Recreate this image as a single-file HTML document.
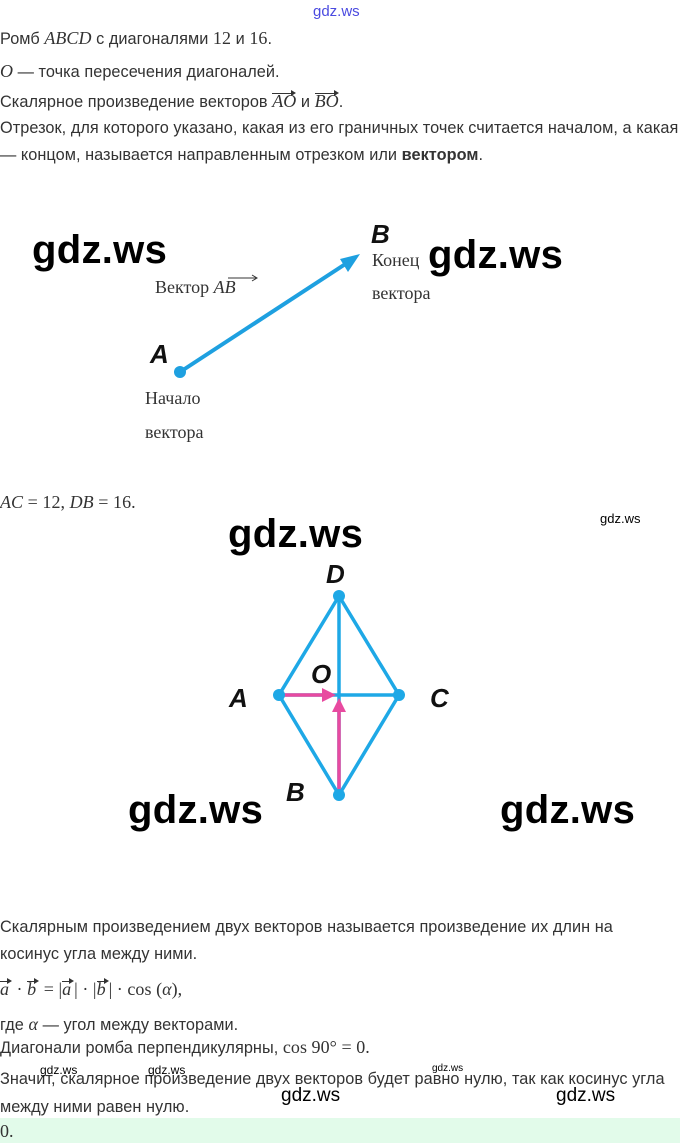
<!DOCTYPE html>
<html><head><meta charset="utf-8"><style>
body{margin:0;width:680px;height:1143px;background:#fff;position:relative;overflow:hidden;font-family:"Liberation Sans",sans-serif;color:#333}
.t{position:absolute;left:0;font-size:16.3px;white-space:nowrap;line-height:18px;letter-spacing:0.05px}
.m{font-family:"Liberation Serif",serif;font-style:italic;font-size:18px}
.r{font-family:"Liberation Serif",serif;font-size:18px}
.v{position:relative;display:inline-block;min-width:12px}
.v::before{content:"";position:absolute;left:0;right:2px;top:1px;border-top:1px solid #333}
.v::after{content:"";position:absolute;right:0;top:-2px;border-left:5px solid #333;border-top:3px solid transparent;border-bottom:3px solid transparent}
.w{position:absolute;font-family:"Liberation Sans",sans-serif;color:#000;white-space:nowrap}
.big{font-size:40px;font-weight:bold;letter-spacing:0.3px}
svg{position:absolute;left:0;top:0}
</style></head><body>
<div class="w" style="left:313px;top:3px;font-size:15px;color:#4a4ae0">gdz.ws</div>
<div class="t" style="top:29px">Ромб <span class="m">ABCD</span> с диагоналями <span class="r">12</span> и <span class="r">16</span>.</div>
<div class="t" style="top:62px"><span class="m">O</span> — точка пересечения диагоналей.</div>
<div class="t" style="top:92px">Скалярное произведение векторов <span class="m v">AO</span> и <span class="m v">BO</span>.</div>
<div class="t" style="top:119px">Отрезок, для которого указано, какая из его граничных точек считается началом, а какая</div>
<div class="t" style="top:146px">— концом, называется направленным отрезком или <b>вектором</b>.</div>

<svg width="680" height="1143">
<line x1="180" y1="372" x2="350" y2="261" stroke="#1ea0e0" stroke-width="4"/>
<polygon points="360,254 340,259 348,272" fill="#1ea0e0"/>
<circle cx="180" cy="372" r="6" fill="#1ea0e0"/>
<g stroke="#1ea8e6" stroke-width="3.5" fill="none">
<polygon points="339,596 399,695 339,795 279,695"/>
<line x1="339" y1="596" x2="339" y2="795"/>
<line x1="279" y1="695" x2="399" y2="695"/>
</g>
<g stroke="#e84aa0" stroke-width="3.5">
<line x1="281" y1="695" x2="326" y2="695"/>
<line x1="339" y1="793" x2="339" y2="710"/>
</g>
<polygon points="336,695 322,688 322,702" fill="#e84aa0"/>
<polygon points="339,698 332,712 346,712" fill="#e84aa0"/>
<g fill="#1ea8e6"><circle cx="339" cy="596" r="6"/><circle cx="399" cy="695" r="6"/><circle cx="339" cy="795" r="6"/><circle cx="279" cy="695" r="6"/></g>
<g font-family="Liberation Sans" font-style="italic" font-weight="bold" font-size="26" fill="#111">
<text x="371" y="243">B</text><text x="150" y="363">A</text>
<text x="326" y="583">D</text><text x="229" y="707">A</text><text x="430" y="707">C</text><text x="311" y="683">O</text><text x="286" y="801">B</text>
</g>
<g font-family="Liberation Serif" font-size="18" fill="#333">
<text x="372" y="266">Конец</text><text x="372" y="299">вектора</text>
<text x="145" y="404">Начало</text><text x="145" y="438">вектора</text>
<text x="155" y="293">Вектор <tspan font-style="italic">AB</tspan></text>
</g>
<path d="M228 278h28M252 275l5 3-5 3" stroke="#333" fill="none"/>
<rect x="0" y="1118" width="680" height="25" fill="#e2fbea"/>
</svg>

<div class="w big" style="left:32px;top:228px">gdz.ws</div>
<div class="w big" style="left:428px;top:233px">gdz.ws</div>
<div class="t" style="top:493px"><span class="m">AC</span><span class="r"> = 12, </span><span class="m">DB</span><span class="r"> = 16.</span></div>
<div class="w" style="left:600px;top:511px;font-size:13px">gdz.ws</div>
<div class="w big" style="left:228px;top:512px">gdz.ws</div>
<div class="w big" style="left:128px;top:788px">gdz.ws</div>
<div class="w big" style="left:500px;top:788px">gdz.ws</div>

<div class="t" style="top:918px">Скалярным произведением двух векторов называется произведение их длин на</div>
<div class="t" style="top:945px">косинус угла между ними.</div>
<div class="t r" style="top:980px"><i class="v">a</i> · <i class="v">b</i> = |<i class="v">a</i>| · |<i class="v">b</i>| · cos (<i>α</i>),</div>
<div class="t" style="top:1015px">где <span class="m">α</span> — угол между векторами.</div>
<div class="t" style="top:1038px">Диагонали ромба перпендикулярны, <span class="r">cos 90° = 0.</span></div>
<div class="t" style="top:1070px">Значит, скалярное произведение двух векторов будет равно нулю, так как косинус угла</div>
<div class="t" style="top:1098px">между ними равен нулю.</div>
<div class="w" style="left:40px;top:1063px;font-size:12px">gdz.ws</div>
<div class="w" style="left:148px;top:1063px;font-size:12px">gdz.ws</div>
<div class="w" style="left:432px;top:1063px;font-size:10px">gdz.ws</div>
<div class="w" style="left:281px;top:1085px;font-size:19px">gdz.ws</div>
<div class="w" style="left:556px;top:1085px;font-size:19px">gdz.ws</div>
<div class="t r" style="top:1122px">0.</div>
</body></html>
